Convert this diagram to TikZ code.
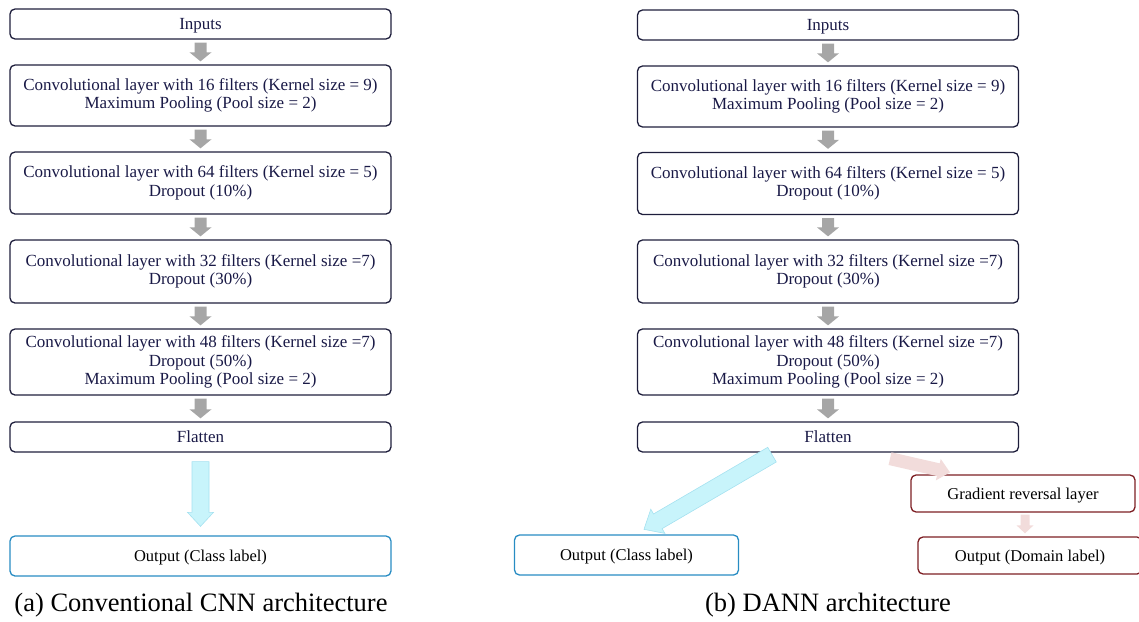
\documentclass[tikz,border=0pt]{standalone}
\usepackage{fontspec}
\setmainfont{Liberation Serif}
\usetikzlibrary{calc}
\definecolor{navy}{RGB}{30,30,60}
\definecolor{navytext}{RGB}{25,25,70}
\definecolor{bluebd}{RGB}{40,140,195}
\definecolor{redbd}{RGB}{125,30,35}
\definecolor{grayar}{RGB}{166,166,166}
\definecolor{cyanfill}{RGB}{200,244,251}
\definecolor{cyanbd}{RGB}{165,225,240}
\definecolor{pinkfill}{RGB}{242,220,219}
\tikzset{
  box/.style={draw=navy, line width=1.3pt, rounded corners=5pt, align=center,
    font=\fontsize{17}{18.5}\selectfont, text=navytext, inner sep=0pt},
  bigbox/.style={box, minimum width=381pt},
  oneline/.style={text depth=0pt},
  outbox/.style={box, oneline, minimum width=224pt, minimum height=39pt, font=\fontsize{16.5}{18}\selectfont, text=black},
  redbox/.style={outbox, draw=redbd},
  garrow/.style={fill=grayar, draw=none},
  carrow/.style={fill=cyanfill, draw=cyanbd, line width=0.6pt},
  parrow/.style={fill=pinkfill, draw=none},
  captext/.style={font=\fontsize{26.5}{30}\selectfont, text=black}
}
% block arrow: #1 from, #2 to, #3 half shaft, #4 half head, #5 head length, #6 style
\newcommand\blockarrow[6]{%
  \coordinate (bA) at #1;
  \coordinate (bB) at #2;
  \coordinate (bH) at ($(bB)!#5!(bA)$);
  \path[#6] ($(bA)!#3!90:(bB)$) -- ($(bH)!#3!90:(bB)$) -- ($(bH)!#4!90:(bB)$) -- (bB)
    -- ($(bH)!#4!-90:(bB)$) -- ($(bH)!#3!-90:(bB)$) -- ($(bA)!#3!-90:(bB)$) -- cycle;
}
\begin{document}
\begin{tikzpicture}[x=1pt,y=-1pt]
\useasboundingbox (0,0) rectangle (1139,621);
% ---- left column ----
\node[bigbox, oneline, minimum height=30pt] (Lin) at (200.5,24) {Inputs};
\node[bigbox, minimum height=61pt] (Lc1) at (200.5,95.5) {Convolutional layer with 16 filters (Kernel size = 9)\\Maximum Pooling (Pool size = 2)};
\node[bigbox, minimum height=62pt] (Lc2) at (200.5,183) {Convolutional layer with 64 filters (Kernel size = 5)\\Dropout (10\%)};
\node[bigbox, minimum height=63pt] (Lc3) at (200.5,271.5) {Convolutional layer with 32 filters (Kernel size =7)\\Dropout (30\%)};
\node[bigbox, minimum height=66pt] (Lc4) at (200.5,362) {Convolutional layer with 48 filters (Kernel size =7)\\Dropout (50\%)\\Maximum Pooling (Pool size = 2)};
\node[bigbox, oneline, minimum height=30pt] (Lfl) at (200.5,437) {Flatten};
\node[bigbox, oneline, minimum height=40pt, draw=bluebd, text=black, font=\fontsize{16.5}{18}\selectfont] (Lout) at (200.5,556) {Output (Class label)};
\node[captext] (capa) at (201,605) {(a) Conventional CNN architecture};
\foreach \a/\b in {Lin/Lc1, Lc1/Lc2, Lc2/Lc3, Lc3/Lc4, Lc4/Lfl}{
  \blockarrow{($(\a.south)+(0,3)$)}{($(\b.north)+(0,-3)$)}{6pt}{11pt}{9pt}{garrow}
}
\blockarrow{($(Lfl.south)+(0,9)$)}{($(Lout.north)+(0,-9)$)}{8.5pt}{13pt}{14pt}{carrow}
% ---- right column ----
\node[bigbox, oneline, minimum height=30pt] (Rin) at (828,25) {Inputs};
\node[bigbox, minimum height=61pt] (Rc1) at (828,96.5) {Convolutional layer with 16 filters (Kernel size = 9)\\Maximum Pooling (Pool size = 2)};
\node[bigbox, minimum height=62pt] (Rc2) at (828,183.5) {Convolutional layer with 64 filters (Kernel size = 5)\\Dropout (10\%)};
\node[bigbox, minimum height=63pt] (Rc3) at (828,271.5) {Convolutional layer with 32 filters (Kernel size =7)\\Dropout (30\%)};
\node[bigbox, minimum height=66pt] (Rc4) at (828,362) {Convolutional layer with 48 filters (Kernel size =7)\\Dropout (50\%)\\Maximum Pooling (Pool size = 2)};
\node[bigbox, oneline, minimum height=30pt] (Rfl) at (828,437) {Flatten};
\node[redbox, minimum height=37pt] (Rgrl) at (1023,493.5) {Gradient reversal layer};
\node[outbox, draw=bluebd, minimum height=40pt] (Rout) at (626.5,555) {Output (Class label)};
\node[redbox, minimum height=37pt] (Rdom) at (1030,555.5) {Output (Domain label)};
\node[captext] (capb) at (828,605) {(b) DANN architecture};
\foreach \a/\b in {Rin/Rc1, Rc1/Rc2, Rc2/Rc3, Rc3/Rc4, Rc4/Rfl}{
  \blockarrow{($(\a.south)+(0,3)$)}{($(\b.north)+(0,-3)$)}{6pt}{11pt}{9pt}{garrow}
}
\blockarrow{($(Rfl.south)+(-56,2)$)}{($(Rout.north)+(17.5,-5)$)}{8.5pt}{14pt}{16pt}{carrow}
\blockarrow{($(Rfl.south)+(62,6)$)}{($(Rgrl.north)+(-73,-2)$)}{6.5pt}{11pt}{12pt}{parrow}
\blockarrow{($(Rgrl.south)+(2,2)$)}{($(Rdom.north)+(-5,-3)$)}{4.5pt}{8.5pt}{8pt}{parrow}
\end{tikzpicture}
\end{document}
